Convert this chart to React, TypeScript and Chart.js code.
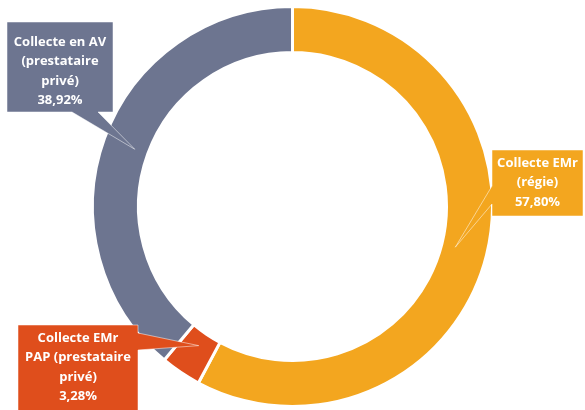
import React, { useEffect, useRef } from "react";
import { Chart, registerables } from "chart.js";

Chart.register(...registerables);

const categories = [
  "Collecte EMr (régie)",
  "Collecte EMr PAP (prestataire privé)",
  "Collecte en AV (prestataire privé)",
];
const shares = [57.8, 3.28, 38.92];
const calloutLines = [
  ["Collecte EMr", "(régie)", "57,80%"],
  ["Collecte EMr", "PAP (prestataire", "privé)", "3,28%"],
  ["Collecte en AV", "(prestataire", "privé)", "38,92%"],
];
const sliceColors = ["#F3A61F", "#DF4E1C", "#6D7590"];

// callout box layout: [x, y, w, h, wedge side, wedge start, wedge end, first line offset]
const boxes: Array<[number, number, number, number, string, number, number, number]> = [
  [492, 150, 91, 66, "left", 186, 204, 13],
  [18, 325, 120, 90, "right", 333, 350, 13],
  [7, 22, 106, 90, "bottom", 72, 98, 20],
];

const calloutPlugin = {
  id: "callouts",
  afterDatasetsDraw(chart: any) {
    const ctx = chart.ctx;
    const meta = chart.getDatasetMeta(0);
    meta.data.forEach((arc: any, i: number) => {
      const p = arc.getProps(["x", "y", "startAngle", "endAngle", "innerRadius", "outerRadius"], true);
      const a = (p.startAngle + p.endAngle) / 2;
      const r = p.innerRadius + (p.outerRadius - p.innerRadius) * 0.3;
      const tx = p.x + Math.cos(a) * r;
      const ty = p.y + Math.sin(a) * r;
      const [x, y, w, h, side, s0, s1, off] = boxes[i];
      ctx.save();
      ctx.beginPath();
      ctx.moveTo(x, y);
      ctx.lineTo(x + w, y);
      if (side === "right") {
        ctx.lineTo(x + w, s0);
        ctx.lineTo(tx, ty);
        ctx.lineTo(x + w, s1);
      }
      ctx.lineTo(x + w, y + h);
      if (side === "bottom") {
        ctx.lineTo(s1, y + h);
        ctx.lineTo(tx, ty);
        ctx.lineTo(s0, y + h);
      }
      ctx.lineTo(x, y + h);
      if (side === "left") {
        ctx.lineTo(x, s1);
        ctx.lineTo(tx, ty);
        ctx.lineTo(x, s0);
      }
      ctx.closePath();
      ctx.fillStyle = sliceColors[i];
      ctx.fill();
      ctx.strokeStyle = "rgba(255,255,255,0.5)";
      ctx.lineWidth = 1;
      ctx.stroke();
      ctx.fillStyle = "#FFFFFF";
      ctx.font = "bold 13px 'Open Sans'";
      ctx.textAlign = "center";
      ctx.textBaseline = "middle";
      const lines = calloutLines[i];
      const lh = 19.5;
      const cx = x + w / 2;
      lines.forEach((ln, k) => ctx.fillText(ln, cx, y + off + k * lh));
      ctx.restore();
    });
  },
};

export default function App() {
  const ref = useRef<HTMLCanvasElement>(null);
  useEffect(() => {
    if (!ref.current) return;
    const chart = new Chart(ref.current, {
      type: "doughnut",
      data: {
        labels: categories,
        datasets: [
          {
            data: shares,
            backgroundColor: sliceColors,
            borderColor: "#FFFFFF",
            borderWidth: 3,
          },
        ],
      },
      options: {
        responsive: false,
        animation: false,
        cutout: "77%",
        layout: { padding: { top: 5, bottom: 2, left: 0, right: 0 } },
        plugins: {
          legend: { display: false },
          tooltip: { enabled: false },
        },
      },
      plugins: [calloutPlugin],
    });
    return () => chart.destroy();
  }, []);
  return (
    <div style={{ position: "absolute", left: 0, top: 0, width: 585, height: 410, background: "#FFFFFF" }}>
      <canvas ref={ref} width={585} height={410} />
    </div>
  );
}
